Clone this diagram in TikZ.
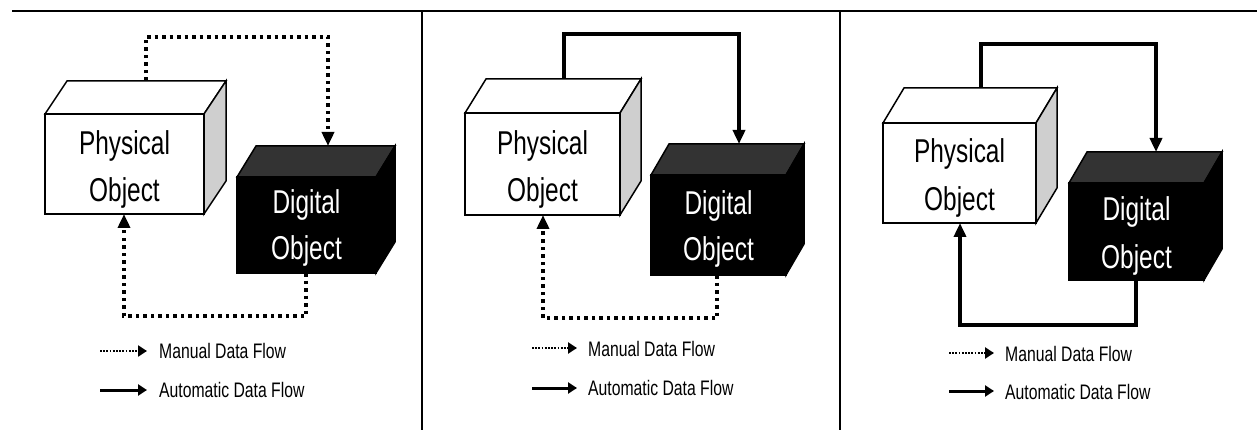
\documentclass[tikz,border=0pt]{standalone}
\usepackage{fontspec}
\newfontfamily\nsans{Liberation Sans}[FakeStretch=0.74]
\newfontfamily\lsans{Liberation Sans}[FakeStretch=0.75]
\usetikzlibrary{arrows.meta,calc}
\definecolor{sidegray}{HTML}{CFCFCF}
\definecolor{topdark}{HTML}{333333}
\tikzset{
  edge/.style={line width=1.5pt, line join=miter},
  physfront/.style={edge, draw=black, fill=white, anchor=north west, inner sep=0pt, outer sep=0pt},
  digifront/.style={edge, draw=black, fill=black, anchor=north west, inner sep=0pt, outer sep=0pt},
  bigtxt/.style={font=\nsans\fontsize{33}{40}\selectfont, inner sep=0pt, anchor=base},
  legtxt/.style={font=\lsans\fontsize{21}{25}\selectfont, inner sep=0pt, anchor=base west},
  manual/.style={line width=4.5pt, dash pattern=on 3.5pt off 4pt, -{Triangle[length=14pt,width=12pt]}},
  auto/.style={line width=3.5pt, -{Triangle[length=14pt,width=12pt]}},
  legman/.style={line width=2.2pt, dash pattern=on 1.8pt off 1.4pt, -{Triangle[length=9pt,width=11pt]}},
  legauto/.style={line width=3pt, -{Triangle[length=9pt,width=11pt]}},
  frame/.style={line width=2pt},
}
\begin{document}
\begin{tikzpicture}[x=1pt,y=-1pt]
\useasboundingbox (0,0) rectangle (1257,430);
% frame lines
\coordinate (tl) at (12,11);
\coordinate (tr) at (1257,11);
\coordinate (v1t) at (422,11);
\coordinate (v1b) at (422,430);
\coordinate (v2t) at (840,11);
\coordinate (v2b) at (840,430);
\draw[frame] (tl) -- (tr);
\draw[frame] (v1t) -- (v1b);
\draw[frame] (v2t) -- (v2b);

% ================= Panel 1 =================
\node[physfront, minimum width=159pt, minimum height=100pt] (p1) at (45,114) {};
\filldraw[edge, fill=white] (p1.north west) -- ++(22,-33) -- ($(p1.north east)+(22,-33)$) -- (p1.north east) -- cycle;
\filldraw[edge, fill=sidegray] (p1.north east) -- ++(22,-33) -- ($(p1.south east)+(22,-33)$) -- (p1.south east) -- cycle;
\node[bigtxt] (p1a) at (124.5,155) {Physical};
\node[bigtxt] (p1b) at (124.5,201.5) {Object};

\node[digifront, minimum width=139pt, minimum height=96pt] (d1) at (237,177) {};
\filldraw[edge, fill=topdark] (d1.north west) -- ++(19,-31) -- ($(d1.north east)+(19,-31)$) -- (d1.north east) -- cycle;
\filldraw[edge, fill=black] (d1.north east) -- ++(19,-31) -- ($(d1.south east)+(19,-31)$) -- (d1.south east) -- cycle;
\node[bigtxt, text=white] (d1a) at (306.5,214) {Digital};
\node[bigtxt, text=white] (d1b) at (306.5,259.5) {Object};

\coordinate (p1out) at (146,81);
\coordinate (d1in) at (328,146);
\coordinate (d1out) at (306,273);
\coordinate (p1in) at (124,214);
\draw[manual] (p1out) -- (146,37) -| (d1in);
\draw[manual] (d1out) -- (306,316) -| (p1in);

\coordinate (l1ms) at (100,351);
\coordinate (l1me) at (147,351);
\coordinate (l1as) at (100,390);
\coordinate (l1ae) at (147,390);
\draw[legman] (l1ms) -- (l1me);
\draw[legauto] (l1as) -- (l1ae);
\node[legtxt] (l1mt) at (159,358) {Manual Data Flow};
\node[legtxt] (l1at) at (159,397.5) {Automatic Data Flow};

% ================= Panel 2 =================
\node[physfront, minimum width=155pt, minimum height=102pt] (p2) at (465,113) {};
\filldraw[edge, fill=white] (p2.north west) -- ++(21,-34) -- ($(p2.north east)+(21,-34)$) -- (p2.north east) -- cycle;
\filldraw[edge, fill=sidegray] (p2.north east) -- ++(21,-34) -- ($(p2.south east)+(21,-34)$) -- (p2.south east) -- cycle;
\node[bigtxt] (p2a) at (542.5,155) {Physical};
\node[bigtxt] (p2b) at (542.5,202) {Object};

\node[digifront, minimum width=135pt, minimum height=100pt] (d2) at (651,175) {};
\filldraw[edge, fill=topdark] (d2.north west) -- ++(18,-31) -- ($(d2.north east)+(18,-31)$) -- (d2.north east) -- cycle;
\filldraw[edge, fill=black] (d2.north east) -- ++(18,-31) -- ($(d2.south east)+(18,-31)$) -- (d2.south east) -- cycle;
\node[bigtxt, text=white] (d2a) at (718.5,214.5) {Digital};
\node[bigtxt, text=white] (d2b) at (718.5,261) {Object};

\coordinate (p2out) at (564,79);
\coordinate (d2in) at (739,144);
\coordinate (d2out) at (717,275);
\coordinate (p2in) at (543,215);
\draw[auto] (p2out) -- (564,34) -| (d2in);
\draw[manual] (d2out) -- (717,318) -| (p2in);

\coordinate (l2ms) at (532,348);
\coordinate (l2me) at (577,348);
\coordinate (l2as) at (532,388);
\coordinate (l2ae) at (577,388);
\draw[legman] (l2ms) -- (l2me);
\draw[legauto] (l2as) -- (l2ae);
\node[legtxt] (l2mt) at (588,356.5) {Manual Data Flow};
\node[legtxt] (l2at) at (588,395) {Automatic Data Flow};

% ================= Panel 3 =================
\node[physfront, minimum width=153pt, minimum height=100pt] (p3) at (883,123) {};
\filldraw[edge, fill=white] (p3.north west) -- ++(21,-35) -- ($(p3.north east)+(21,-35)$) -- (p3.north east) -- cycle;
\filldraw[edge, fill=sidegray] (p3.north east) -- ++(21,-35) -- ($(p3.south east)+(21,-35)$) -- (p3.south east) -- cycle;
\node[bigtxt] (p3a) at (959.5,163) {Physical};
\node[bigtxt] (p3b) at (959.5,211) {Object};

\node[digifront, minimum width=135pt, minimum height=97pt] (d3) at (1069,183) {};
\filldraw[edge, fill=topdark] (d3.north west) -- ++(18,-31) -- ($(d3.north east)+(18,-31)$) -- (d3.north east) -- cycle;
\filldraw[edge, fill=black] (d3.north east) -- ++(18,-31) -- ($(d3.south east)+(18,-31)$) -- (d3.south east) -- cycle;
\node[bigtxt, text=white] (d3a) at (1136.5,221) {Digital};
\node[bigtxt, text=white] (d3b) at (1136.5,268.5) {Object};

\coordinate (p3out) at (981,88);
\coordinate (d3in) at (1156,152);
\coordinate (d3out) at (1136,280);
\coordinate (p3in) at (960,223);
\draw[auto] (p3out) -- (981,44) -| (d3in);
\draw[auto] (d3out) -- (1136,325) -| (p3in);

\coordinate (l3ms) at (949,353);
\coordinate (l3me) at (994,353);
\coordinate (l3as) at (949,391);
\coordinate (l3ae) at (994,391);
\draw[legman] (l3ms) -- (l3me);
\draw[legauto] (l3as) -- (l3ae);
\node[legtxt] (l3mt) at (1005,361) {Manual Data Flow};
\node[legtxt] (l3at) at (1005,399) {Automatic Data Flow};
\end{tikzpicture}
\end{document}
